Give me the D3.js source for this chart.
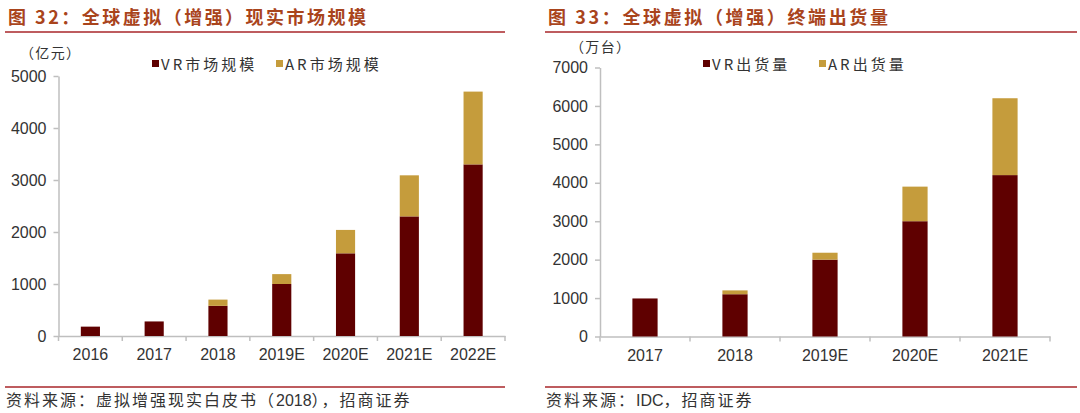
<!DOCTYPE html>
<html>
<head>
<meta charset="utf-8">
<script src="https://cdn.jsdelivr.net/npm/d3@7"></script>
<style>
  body { margin: 0; background: #fff; }
  svg text { font-family: "Noto Sans CJK SC", "Liberation Sans", sans-serif; }
  .num { font-family: "Liberation Sans", Arial, sans-serif; }
</style>
</head>
<body>
<svg id="chart" width="1080" height="413"></svg>
<script>
// left chart: market size (亿元)
const marketYears = ['2016', '2017', '2018', '2019E', '2020E', '2021E', '2022E'];
const marketVR = [180, 280, 580, 1000, 1590, 2300, 3300];
const marketAR = [0, 0, 120, 190, 450, 790, 1400];
const marketTicks = [0, 1000, 2000, 3000, 4000, 5000];

// right chart: shipments (万台)
const shipYears = ['2017', '2018', '2019E', '2020E', '2021E'];
const shipVR = [990, 1100, 2000, 3000, 4200];
const shipAR = [0, 100, 180, 900, 2000];
const shipTicks = [0, 1000, 2000, 3000, 4000, 5000, 6000, 7000];

const vrColor = '#5f0000';
const arColor = '#c59c3c';
const lineColor = '#a8262a';
const titleColor = '#a9441c';
const axisColor = '#bfbfbf';
const textColor = '#333';

const svg = d3.select('#chart');

function panel(opt) {
	const g = svg.append('g');

	// title + rule
	g.append('text')
		.attr('x', opt.left)
		.attr('y', 24)
		.attr('textLength', opt.titleLen)
		.attr('lengthAdjust', 'spacing')
		.style('font-size', '18px')
		.style('font-weight', 'bold')
		.style('fill', titleColor)
		.text(opt.title);
	g.append('line')
		.attr('x1', opt.left - 3).attr('x2', opt.right)
		.attr('y1', 32).attr('y2', 32)
		.style('stroke', lineColor).style('stroke-width', 1.5);

	// footer, numbers and latin in a plain sans
	g.append('line')
		.attr('x1', opt.left - 3).attr('x2', opt.right)
		.attr('y1', 387).attr('y2', 387)
		.style('stroke', lineColor).style('stroke-width', 1.5);
	const src = g.append('text')
		.attr('x', opt.left - 2)
		.attr('y', 406)
		.style('font-size', '16px')
		.style('fill', textColor);
	src.selectAll('tspan')
		.data(opt.source)
		.enter()
		.append('tspan')
		.attr('class', (d, i) => i % 2 ? 'num' : null)
		.style('letter-spacing', (d, i) => i % 2 ? '0px' : '2px')
		.text(d => d);

	// unit
	g.append('text')
		.attr('x', opt.unitX)
		.attr('y', opt.unitY)
		.attr('textLength', 60)
		.attr('lengthAdjust', 'spacing')
		.style('font-size', '14px')
		.style('fill', textColor)
		.text(opt.unit);

	const x = d3.scaleBand()
		.domain(opt.cats)
		.range([opt.x0, opt.x1]);
	const y = d3.scaleLinear()
		.domain([0, opt.max])
		.range([opt.y0, opt.yTop]);

	const yAxis = d3.axisLeft(y)
		.tickValues(opt.ticks)
		.tickFormat(d3.format('d'))
		.tickSize(5)
		.tickPadding(7)
		.tickSizeOuter(0);
	const yg = g.append('g')
		.attr('transform', 'translate(' + opt.x0 + ',0)')
		.call(yAxis);
	yg.selectAll('path, line').style('stroke', axisColor).style('stroke-width', 1.5);
	yg.selectAll('text').attr('class', 'num').style('font-size', '16px').style('fill', textColor);

	const xAxis = d3.axisBottom(x)
		.tickSize(0)
		.tickPadding(13)
		.tickSizeOuter(0);
	const xg = g.append('g')
		.attr('transform', 'translate(0,' + opt.y0 + ')')
		.call(xAxis);
	xg.selectAll('path').style('stroke', axisColor).style('stroke-width', 1.5);
	xg.selectAll('text').attr('class', 'num').style('font-size', '16px').style('fill', textColor);

	// tick marks between categories
	const bounds = opt.cats.map(c => x(c)).concat([x(opt.cats[opt.cats.length - 1]) + x.bandwidth()]);
	g.append('g').selectAll('line')
		.data(bounds)
		.enter()
		.append('line')
		.attr('x1', d => d).attr('x2', d => d)
		.attr('y1', opt.y0).attr('y2', opt.y0 + 5)
		.style('stroke', axisColor).style('stroke-width', 1.5);

	const barW = x.bandwidth() * opt.barRatio;
	const bx = c => x(c) + (x.bandwidth() - barW) / 2;

	g.append('g').selectAll('rect')
		.data(opt.cats)
		.enter()
		.append('rect')
		.attr('x', d => bx(d))
		.attr('y', (d, i) => y(opt.vr[i]))
		.attr('width', barW)
		.attr('height', (d, i) => y(0) - y(opt.vr[i]))
		.attr('fill', vrColor);

	g.append('g').selectAll('rect')
		.data(opt.cats)
		.enter()
		.append('rect')
		.attr('x', d => bx(d))
		.attr('y', (d, i) => y(opt.vr[i] + opt.ar[i]))
		.attr('width', barW)
		.attr('height', (d, i) => y(opt.vr[i]) - y(opt.vr[i] + opt.ar[i]))
		.attr('fill', arColor);

	// legend
	const legend = [
		{ name: opt.names[0], color: vrColor, x: opt.legX[0] },
		{ name: opt.names[1], color: arColor, x: opt.legX[1] }
	];
	const lg = g.append('g').selectAll('g')
		.data(legend)
		.enter()
		.append('g');
	lg.append('rect')
		.attr('x', d => d.x)
		.attr('y', 60)
		.attr('width', 7)
		.attr('height', 7)
		.attr('fill', d => d.color);
	lg.append('text')
		.attr('x', d => d.x + 9)
		.attr('y', 70)
		.style('font-size', '15px')
		.style('letter-spacing', '3px')
		.style('fill', textColor)
		.text(d => d.name);
}

panel({
	left: 8, right: 505,
	title: '图 32：全球虚拟（增强）现实市场规模', titleLen: 358,
	source: ['资料来源：虚拟增强现实白皮书（', '2018', '），招商证券'],
	unit: '（亿元）', unitX: 20, unitY: 58,
	cats: marketYears, vr: marketVR, ar: marketAR, ticks: marketTicks, max: 5000,
	x0: 58.5, x1: 505, y0: 336, yTop: 76, barRatio: 0.3,
	names: ['VR市场规模', 'AR市场规模'], legX: [152, 276]
});

panel({
	left: 548, right: 1077,
	title: '图 33：全球虚拟（增强）终端出货量', titleLen: 340,
	source: ['资料来源：', 'IDC', '，招商证券'],
	unit: '（万台）', unitX: 570, unitY: 52,
	cats: shipYears, vr: shipVR, ar: shipAR, ticks: shipTicks, max: 7000,
	x0: 600, x1: 1050, y0: 336.5, yTop: 67.5, barRatio: 0.28,
	names: ['VR出货量', 'AR出货量'], legX: [703, 819]
});
</script>
</body>
</html>
